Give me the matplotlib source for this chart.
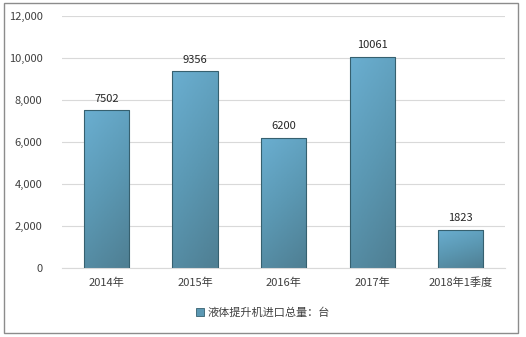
import numpy as np
import matplotlib
matplotlib.use('Agg')
from matplotlib import pyplot as plt
from matplotlib.patches import Rectangle, Patch
from matplotlib.colors import LinearSegmentedColormap

plt.rcParams['font.family'] = ['Noto Sans CJK SC', 'DejaVu Sans']

categories = ['2014年', '2015年', '2016年', '2017年', '2018年1季度']
values = [7502, 9356, 6200, 10061, 1823]
yticks = [0, 2000, 4000, 6000, 8000, 10000, 12000]
legend_label = '液体提升机进口总量：台'

fig = plt.figure(figsize=(5.26, 3.37), dpi=100)
ax = fig.add_axes([0.118, 0.205, 0.842, 0.748])

# outer frame
fig.patches.append(Rectangle((0.008, 0.012), 0.976, 0.98, transform=fig.transFigure,
                             fill=False, edgecolor='#8c8c8c', linewidth=1.0))

cmap = LinearSegmentedColormap.from_list('bar', ['#6aaed0', '#5b98b3', '#4f7f93'])
grad = np.add.outer(np.linspace(0, 1, 64), np.linspace(0, 0.35, 16))
x = np.arange(len(categories))
width = 0.51
bars = ax.bar(x, values, width=width, color='none', edgecolor='#36606f', linewidth=0.8, zorder=3)
for b in bars:
    x0, w, h = b.get_x(), b.get_width(), b.get_height()
    im = ax.imshow(grad, cmap=cmap, extent=(x0, x0 + w, 0, h), origin='upper',
                   aspect='auto', zorder=2, vmin=0, vmax=1.35)
    im.set_clip_path(b)
for xi, v in zip(x, values):
    ax.text(xi, v + 300, str(v), ha='center', va='bottom', fontsize=8, color='#262626')

ax.set_xlim(-0.5, len(categories) - 0.5)
ax.set_ylim(0, 12000)
ax.set_yticks(yticks)
ax.set_yticklabels([f'{t:,}' for t in yticks])
ax.set_xticks(x)
ax.set_xticklabels(categories)
ax.tick_params(axis='both', length=0, labelsize=8, labelcolor='#404040')
ax.tick_params(axis='y', pad=14)
ax.tick_params(axis='x', pad=7)
ax.grid(axis='y', color='#d9d9d9', linewidth=0.8, zorder=0)
for s in ['left', 'right', 'top']:
    ax.spines[s].set_visible(False)
ax.spines['bottom'].set_color('#d9d9d9')

handle = Patch(facecolor='#5b98b3', edgecolor='#36606f', linewidth=0.6)
fig.legend([handle], [legend_label], loc='center', bbox_to_anchor=(0.5, 0.072),
           frameon=False, fontsize=8, handlelength=0.7, handleheight=0.7,
           handletextpad=0.3, labelcolor='#404040')

fig.savefig('out.png', dpi=100)
